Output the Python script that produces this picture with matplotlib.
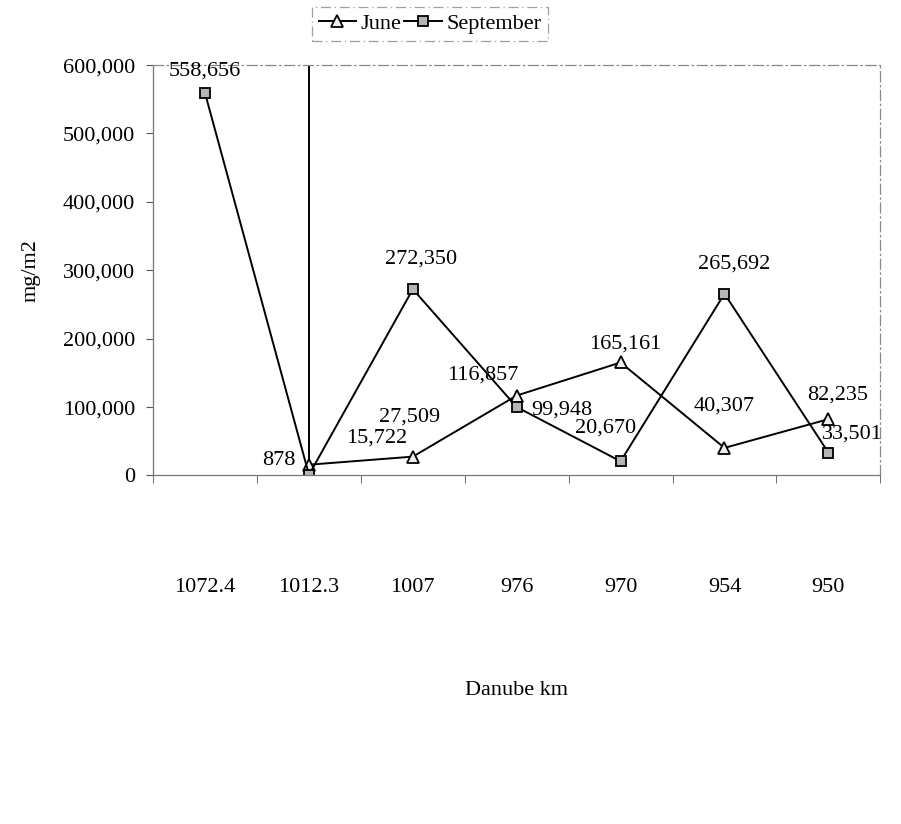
import numpy as np
import matplotlib.pyplot as plt
from matplotlib.ticker import FuncFormatter

# data
stations = ['1072.4', '1012.3', '1007', '976', '970', '954', '950']
june = [np.nan, 15722, 27509, 116857, 165161, 40307, 82235]
september = [558656, 878, 272350, 99948, 20670, 265692, 33501]

# label offsets (pixels, from the point)
june_off = [None, (68, 27), (-3, 40), (-34, 20), (5, 18), (0, 42), (9, 24)]
sept_off = [(0, 22), (-30, 14), (8, 30), (45, -3), (-15, 33), (10, 30), (24, 18)]

plt.rcParams['font.family'] = ['Liberation Serif', 'DejaVu Serif']

fig = plt.figure(figsize=(9.01, 8.24), dpi=100)
ax = fig.add_axes([0.170, 0.423, 0.807, 0.498])

x = np.arange(len(stations))
ymax = 600000

# June jumps off the scale at the first station
ax.plot([x[1], x[1]], [june[1], ymax], color='black', lw=1.4)
ax.plot(x, june, color='black', lw=1.4, marker='^', markersize=8,
        markerfacecolor='#eeeeee', markeredgecolor='black', markeredgewidth=1.3,
        label='June')
ax.plot(x, september, color='black', lw=1.4, marker='s', markersize=7,
        markerfacecolor='#b5b5b5', markeredgecolor='black', markeredgewidth=1.3,
        label='September')

for i in range(len(x)):
    if june_off[i] is not None and not np.isnan(june[i]):
        ax.annotate(f'{june[i]:,}', (x[i], june[i]), xytext=june_off[i],
                    textcoords='offset pixels', ha='center', va='center', fontsize=16)
    ax.annotate(f'{september[i]:,}', (x[i], september[i]), xytext=sept_off[i],
                textcoords='offset pixels', ha='center', va='center', fontsize=16)

ax.set_xlim(-0.5, len(stations) - 0.5)
ax.set_ylim(0, ymax)
ax.set_yticks(np.arange(0, ymax + 1, 100000))
ax.yaxis.set_major_formatter(FuncFormatter(lambda v, p: f'{int(v):,}'))
ax.set_xticks(x)
ax.set_xticklabels(stations)
ax.set_xticks(np.arange(-0.5, len(stations), 1), minor=True)
ax.tick_params(axis='x', which='major', length=0, pad=74, labelsize=16)
ax.tick_params(axis='x', which='minor', length=6, color='#555555', direction='out')
ax.tick_params(axis='y', length=5, color='#555555', labelsize=16, pad=8)

for side in ['top', 'right']:
    ax.spines[side].set_linestyle((0, (8, 3, 1, 3)))
    ax.spines[side].set_color('#888888')
    ax.spines[side].set_linewidth(0.9)
for side in ['left', 'bottom']:
    ax.spines[side].set_color('#777777')
    ax.spines[side].set_linewidth(0.9)

ax.set_xlabel('Danube km', fontsize=16, labelpad=60)
ax.set_ylabel('mg/m2', fontsize=16, labelpad=16)

leg = fig.legend(loc='upper center', bbox_to_anchor=(0.477, 0.997), ncol=2,
                 fontsize=16, frameon=True, fancybox=False, edgecolor='#888888',
                 handlelength=1.7, handletextpad=0.2, columnspacing=0.1,
                 borderpad=0.3, borderaxespad=0.2)
leg.get_frame().set_linestyle((0, (8, 3, 1, 3)))
leg.get_frame().set_linewidth(0.9)

fig.savefig('out.png', dpi=100)
